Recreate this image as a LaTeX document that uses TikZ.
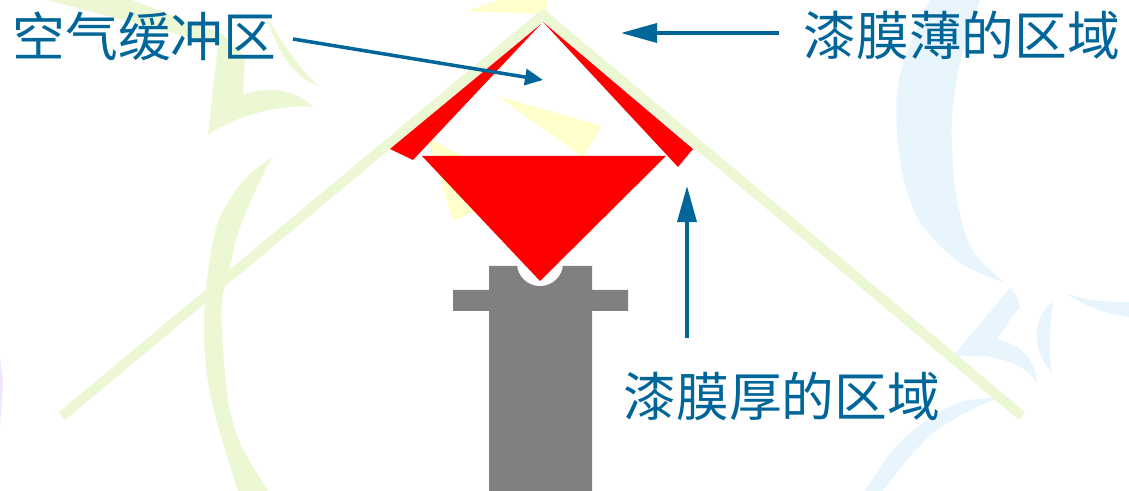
\documentclass[tikz,border=0pt]{standalone}
\usepackage{fontspec}
\newfontfamily\cjk{Noto Sans CJK SC}
\usetikzlibrary{arrows.meta}
\definecolor{leafgreen}{RGB}{236,248,212}
\definecolor{leafyellow}{RGB}{255,255,204}
\definecolor{leafblue}{RGB}{232,245,253}
\definecolor{leafviolet}{RGB}{242,228,255}
\definecolor{inkblue}{RGB}{0,102,153}
\definecolor{paintred}{RGB}{255,0,0}
\definecolor{gungrey}{RGB}{128,128,128}
\begin{document}
\begin{tikzpicture}[x=0.01cm,y=-0.01cm,
  caption/.style={font=\cjk\fontsize{15pt}{18pt}\selectfont, text=inkblue, inner sep=0pt, anchor=west},
  pointer/.style={draw=inkblue, line width=1pt, -{Triangle[length=3.6mm,width=1.9mm]}},
  smallpointer/.style={draw=inkblue, line width=1pt, -{Triangle[length=1.8mm,width=1.6mm]}},
  leaf/.style={fill=leafgreen},
  petal/.style={fill=leafblue},
  flake/.style={fill=leafyellow}]
\useasboundingbox (0,0) rectangle (1129,491);

% --- faint background ornaments ---
\fill[leafviolet] (0,357) -- (3,382) -- (0,427) -- cycle;
% green stems and leaves on the left
\fill[leaf] plot[smooth] coordinates {(273,156) (242,182) (218,222) (208,272) (204,327) (208,383) (220,433) (238,491)}
  -- plot[smooth] coordinates {(268,491) (240,443) (228,400) (222,333) (222,300) (230,267) (238,233) (257,187) (273,156)} -- cycle;
\fill[leaf] (47,0) -- (132,0) -- (222,34) -- (245,57) -- (243,95)
  .. controls (262,86) and (295,88) .. (313,107)
  .. controls (290,104) and (240,112) .. (208,135) -- (218,45) -- cycle;
\fill[leaf] (267,18) .. controls (285,45) and (300,72) .. (320,86)
  .. controls (298,80) and (280,60) .. (267,18) -- cycle;
% blue petals on the right
\fill[petal] plot[smooth] coordinates {(930,0) (905,57) (897,93) (897,133) (902,173) (915,213) (937,243) (967,267) (1005,283)}
  -- plot[smooth] coordinates {(1005,283) (978,258) (965,233) (957,200) (953,167) (952,117) (960,63) (980,0)} -- cycle;
\fill[petal] (1065,293) .. controls (1090,302) and (1110,302) .. (1129,302) -- (1129,317)
  .. controls (1105,314) and (1085,306) .. (1065,293) -- cycle;
\fill[petal] (1010,288) -- (1018,298) -- (1020,307) -- (1013,315) -- (997,340)
  .. controls (1015,342) and (1035,355) .. (1037,383)
  .. controls (1028,368) and (1010,360) .. (985,356) -- (953,356) -- cycle;
\fill[petal] (1053,302) .. controls (1035,315) and (1028,345) .. (1052,373)
  .. controls (1048,350) and (1050,330) .. (1053,302) -- cycle;
\fill[petal] plot[smooth] coordinates {(997,398) (960,402) (923,423) (893,450) (865,491)}
  -- plot[smooth] coordinates {(883,491) (907,460) (933,433) (965,413) (997,398)} -- cycle;
% yellow flakes
\fill[flake] (465,11) -- (500,0) -- (547,0) -- (546,14) -- cycle;
\fill[flake] (497,96) -- (602,126) -- (583,157) -- cycle;
\fill[flake] (428,138) -- (453,221) -- (490,205) -- (470,160) -- cycle;

% --- sprayed surface (bent panel) ---
\draw[leafgreen, line width=0.1cm] (62,416) -- (543,15) -- (1022,416);

% --- paint deposit ---
\fill[paintred] (541,24) -- (390,149) -- (413,160) -- cycle;
\fill[paintred] (543,22) -- (693,149) -- (678,167) -- cycle;

% --- spray gun ---
\fill[gungrey] (489,266) -- (592,266) -- (592,290) -- (628,290) -- (628,311) -- (592,311)
  -- (592,491) -- (489,491) -- (489,311) -- (453,311) -- (453,290) -- (489,290) -- cycle;
\fill[white] (540,263) circle (0.23cm);

% --- spray cone ---
\fill[paintred] (422,156) -- (666,156) -- (540,281) -- cycle;

% --- labels ---
\node[caption] (air) at (12,36) {空气缓冲区};
\node[caption] (thin) at (803,35) {漆膜薄的区域};
\node[caption] (thick) at (623,396) {漆膜厚的区域};

\coordinate (airtail) at (293,39);
\coordinate (gap) at (543,80);
\coordinate (thintail) at (779,33);
\coordinate (ridge) at (621,33);
\coordinate (thicktail) at (687,338);
\coordinate (rim) at (687,186);

\draw[smallpointer] (airtail) -- (gap);
\draw[pointer] (thintail) -- (ridge);
\draw[pointer] (thicktail) -- (rim);
\end{tikzpicture}
\end{document}
